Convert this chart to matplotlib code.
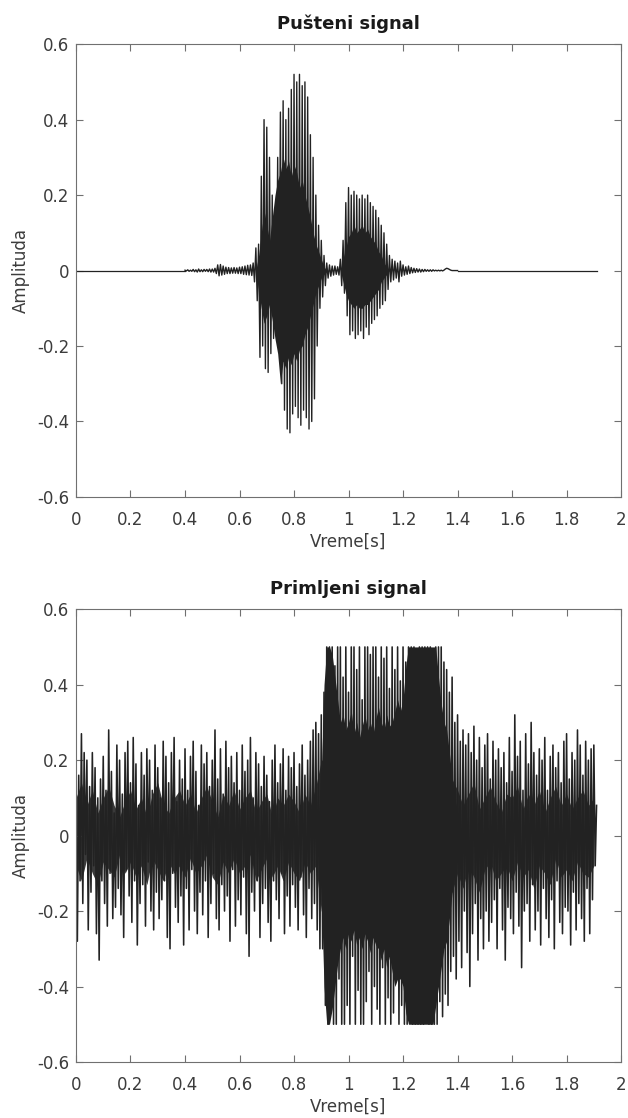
import numpy as np
import matplotlib
matplotlib.use("Agg")
import matplotlib.pyplot as plt
from matplotlib.ticker import FormatStrFormatter

plt.rcParams['font.family'] = ['DejaVu Sans']
plt.rcParams['axes.unicode_minus'] = False

# korak odabiranja (ocitani vrhovi, jedan na svakih 5 ms) i trajanje signala
korak = 0.005
trajanje = 1.91

# Pusteni signal: vrhovi od 0.40 s do 1.40 s, van toga je signal ~0
pusteni_pocetak = 0.40
pusteni = [
    0.001, -0.001, 0.002, -0.002, 0.001, -0.002, 0.003, -0.003, 0.002, -0.004, 0.004, -0.003, 0.002, -0.003, 0.003, -0.002, 0.003, -0.003, 0.004, -0.004,
    0.004, -0.004, 0.006, -0.008, 0.015, -0.014, 0.016, -0.012, 0.012, -0.01, 0.009, -0.008, 0.008, -0.008, 0.007, -0.007, 0.008, -0.007, 0.007, -0.008,
    0.009, -0.008, 0.01, -0.01, 0.012, -0.011, 0.014, -0.012, 0.015, -0.013, 0.02, -0.03, 0.06, -0.08, 0.07, -0.23, 0.25, -0.2, 0.4, -0.26,
    0.38, -0.27, 0.3, -0.22, 0.2, -0.18, 0.12, -0.15, 0.3, -0.2, 0.42, -0.3, 0.45, -0.37, 0.4, -0.42, 0.43, -0.43, 0.48, -0.38,
    0.52, -0.36, 0.5, -0.39, 0.52, -0.41, 0.49, -0.37, 0.5, -0.39, 0.46, -0.42, 0.36, -0.4, 0.3, -0.34, 0.2, -0.2, 0.12, -0.1,
    0.08, -0.07, 0.04, -0.04, 0.02, -0.02, 0.015, -0.015, 0.012, -0.012, 0.012, -0.01, 0.01, -0.012, 0.03, -0.04, 0.08, -0.06, 0.18, -0.12,
    0.22, -0.17, 0.2, -0.16, 0.21, -0.18, 0.2, -0.17, 0.19, -0.16, 0.2, -0.18, 0.19, -0.15, 0.2, -0.17, 0.18, -0.14, 0.17, -0.13,
    0.16, -0.12, 0.14, -0.1, 0.12, -0.09, 0.1, -0.08, 0.07, -0.05, 0.04, -0.03, 0.03, -0.025, 0.025, -0.02, 0.02, -0.03, 0.025, -0.015,
    0.015, -0.012, 0.01, -0.01, 0.012, -0.008, 0.008, -0.006, 0.006, -0.005, 0.005, -0.004, 0.004, -0.004, 0.003, -0.003, 0.003, -0.002, 0.002, -0.002,
    0.002, -0.002, 0.002, -0.001, 0.001, -0.001, 0.001, -0.001, 0.001, -0.001, 0.001, 0.004, 0.006, 0.005, 0.003, 0.001, 0.0, 0.0, 0.0, 0.0, 0.0,
]

# gusto jezgro (zacrnjeni deo) pustenog signala, na svakih 10 ms
jezgro1_pocetak = 0.66
jezgro1_gore = [0.0, 0.04, 0.1, 0.16, 0.12, 0.08, 0.14, 0.2, 0.24, 0.26, 0.3, 0.27, 0.29, 0.25,
                0.28, 0.26, 0.22, 0.24, 0.2, 0.17, 0.14, 0.1, 0.07, 0.05, 0.03, 0.01, 0.0]
jezgro1_dole = [0.0, -0.05, -0.1, -0.14, -0.12, -0.09, -0.13, -0.18, -0.22, -0.3, -0.24, -0.26, -0.23, -0.25,
                -0.22, -0.24, -0.21, -0.2, -0.17, -0.15, -0.12, -0.09, -0.06, -0.04, -0.02, -0.01, 0.0]
jezgro2_pocetak = 0.97
jezgro2_gore = [0.0, 0.03, 0.06, 0.09, 0.1, 0.12, 0.1, 0.11, 0.12, 0.1, 0.11, 0.09, 0.08, 0.07, 0.05, 0.04, 0.02, 0.01, 0.0]
jezgro2_dole = [0.0, -0.03, -0.06, -0.08, -0.09, -0.1, -0.09, -0.1, -0.1, -0.09, -0.09, -0.08, -0.07, -0.06, -0.05, -0.03, -0.02, -0.01, 0.0]

# Primljeni signal: vrhovi od 0 s do 1.91 s
primljeni = [
    0.1, -0.28, 0.16, -0.12, 0.27, -0.18, 0.22, -0.05, 0.2, -0.25, 0.13, -0.15, 0.22, -0.08, 0.18, -0.26, 0.1, -0.33, 0.15, -0.12,
    0.21, -0.18, 0.12, -0.24, 0.28, -0.1, 0.17, -0.22, 0.06, -0.19, 0.24, -0.14, 0.2, -0.21, 0.11, -0.27, 0.22, -0.09, 0.25, -0.16,
    0.14, -0.23, 0.26, -0.12, 0.19, -0.29, 0.08, -0.18, 0.22, -0.13, 0.16, -0.24, 0.23, -0.07, 0.2, -0.2, 0.12, -0.25, 0.24, -0.15,
    0.18, -0.22, 0.1, -0.17, 0.25, -0.12, 0.21, -0.27, 0.14, -0.3, 0.22, -0.1, 0.26, -0.19, 0.09, -0.23, 0.2, -0.16, 0.15, -0.29,
    0.23, -0.14, 0.12, -0.25, 0.21, -0.09, 0.25, -0.2, 0.17, -0.26, 0.08, -0.15, 0.24, -0.21, 0.19, -0.12, 0.22, -0.27, 0.13, -0.18,
    0.2, -0.1, 0.28, -0.22, 0.15, -0.25, 0.23, -0.13, 0.11, -0.2, 0.25, -0.16, 0.18, -0.28, 0.21, -0.09, 0.14, -0.24, 0.22, -0.17,
    0.12, -0.21, 0.24, -0.11, 0.17, -0.26, 0.2, -0.32, 0.26, -0.15, 0.1, -0.2, 0.22, -0.12, 0.19, -0.27, 0.13, -0.18, 0.21, -0.14,
    0.16, -0.23, 0.09, -0.28, 0.2, -0.12, 0.24, -0.17, 0.14, -0.22, 0.19, -0.1, 0.23, -0.26, 0.12, -0.16, 0.21, -0.24, 0.18, -0.13,
    0.22, -0.19, 0.13, -0.25, 0.19, -0.11, 0.24, -0.21, 0.16, -0.27, 0.2, -0.14, 0.25, -0.22, 0.28, -0.18, 0.3, -0.25, 0.27, -0.3,
    0.32, -0.3, 0.38, -0.45, 0.5, -0.5, 0.5, -0.42, 0.5, -0.5, 0.45, -0.5, 0.5, -0.38, 0.5, -0.5, 0.42, -0.5, 0.5, -0.45,
    0.38, -0.5, 0.5, -0.32, 0.5, -0.5, 0.44, -0.41, 0.5, -0.5, 0.36, -0.5, 0.5, -0.44, 0.5, -0.36, 0.48, -0.5, 0.5, -0.4,
    0.5, -0.46, 0.42, -0.5, 0.5, -0.35, 0.47, -0.5, 0.5, -0.43, 0.39, -0.5, 0.5, -0.47, 0.44, -0.38, 0.5, -0.5, 0.41, -0.45,
    0.5, -0.5, 0.46, -0.5, 0.5, -0.42, 0.5, -0.5, 0.5, -0.5, 0.48, -0.5, 0.5, -0.5, 0.5, -0.5, 0.5, -0.46, 0.5, -0.5,
    0.5, -0.5, 0.47, -0.5, 0.5, -0.5, 0.5, -0.44, 0.5, -0.48, 0.46, -0.42, 0.44, -0.45, 0.38, -0.36, 0.42, -0.32, 0.3, -0.38,
    0.32, -0.28, 0.25, -0.35, 0.28, -0.2, 0.24, -0.31, 0.27, -0.4, 0.22, -0.26, 0.29, -0.18, 0.2, -0.33, 0.26, -0.22, 0.18, -0.3,
    0.24, -0.2, 0.27, -0.28, 0.15, -0.23, 0.25, -0.17, 0.2, -0.3, 0.23, -0.14, 0.18, -0.25, 0.22, -0.33, 0.14, -0.19, 0.26, -0.22,
    0.17, -0.26, 0.32, -0.15, 0.21, -0.24, 0.25, -0.35, 0.12, -0.2, 0.27, -0.18, 0.19, -0.28, 0.3, -0.13, 0.22, -0.25, 0.16, -0.2,
    0.23, -0.29, 0.2, -0.14, 0.26, -0.22, 0.12, -0.27, 0.21, -0.17, 0.24, -0.3, 0.18, -0.12, 0.22, -0.23, 0.14, -0.26, 0.25, -0.19,
    0.27, -0.2, 0.15, -0.29, 0.22, -0.15, 0.2, -0.25, 0.28, -0.18, 0.24, -0.22, 0.16, -0.28, 0.25, -0.14, 0.2, -0.26, 0.23, -0.17,
    0.24, -0.08, 0.08,
]

# tamna traka suma oko nule u primljenom signalu, na svakih 20 ms
sum_korak = 0.02
sum_gore = [0.1, 0.14, 0.08, 0.12, 0.06, 0.1, 0.13, 0.08, 0.05, 0.09,
            0.12, 0.07, 0.1, 0.05, 0.11, 0.14, 0.08, 0.06, 0.1, 0.12,
            0.08, 0.11, 0.06, 0.1, 0.13, 0.09, 0.05, 0.11, 0.08, 0.12,
            0.07, 0.1, 0.12, 0.06, 0.09, 0.11, 0.05, 0.1, 0.08, 0.11,
            0.09, 0.06, 0.11, 0.08, 0.13, 0.2, 0.2, 0.2, 0.2, 0.2,
            0.2, 0.2, 0.2, 0.2, 0.2, 0.2, 0.2, 0.2, 0.2, 0.2,
            0.2, 0.2, 0.2, 0.2, 0.2, 0.2, 0.2, 0.2, 0.18, 0.15,
            0.12, 0.08, 0.11, 0.14, 0.07, 0.1, 0.13, 0.09, 0.06, 0.11,
            0.1, 0.13, 0.07, 0.11, 0.08, 0.12, 0.06, 0.1, 0.13, 0.08,
            0.11, 0.07, 0.1, 0.12, 0.08, 0.1]
sum_dole = [-0.08, -0.12, -0.06, -0.1, -0.13, -0.07, -0.09, -0.11, -0.05, -0.1,
            -0.07, -0.11, -0.08, -0.13, -0.06, -0.09, -0.12, -0.07, -0.1, -0.08,
            -0.11, -0.06, -0.1, -0.08, -0.05, -0.11, -0.13, -0.07, -0.1, -0.06,
            -0.1, -0.08, -0.05, -0.12, -0.09, -0.06, -0.11, -0.08, -0.12, -0.07,
            -0.1, -0.12, -0.07, -0.1, -0.08, -0.2, -0.2, -0.2, -0.2, -0.2,
            -0.2, -0.2, -0.2, -0.2, -0.2, -0.2, -0.2, -0.2, -0.2, -0.2,
            -0.2, -0.2, -0.2, -0.2, -0.2, -0.2, -0.2, -0.2, -0.17, -0.15,
            -0.1, -0.14, -0.08, -0.11, -0.15, -0.09, -0.07, -0.12, -0.1, -0.08,
            -0.12, -0.07, -0.11, -0.09, -0.14, -0.08, -0.1, -0.13, -0.06, -0.11,
            -0.09, -0.12, -0.07, -0.1, -0.11, -0.08]

# gusto jezgro primljenog signala u delu sa govorom, na svakih 10 ms
jezgro3_pocetak = 0.89
jezgro3_gore = [0.05, 0.15, 0.4, 0.5, 0.5, 0.48, 0.42, 0.36, 0.3, 0.32,
                0.28, 0.3, 0.33, 0.27, 0.3, 0.26, 0.29, 0.32, 0.28, 0.3,
                0.27, 0.31, 0.34, 0.3, 0.28, 0.32, 0.29, 0.3, 0.33, 0.36,
                0.33, 0.36, 0.45, 0.5, 0.5, 0.5, 0.5, 0.5, 0.5, 0.5,
                0.5, 0.5, 0.5, 0.5, 0.42, 0.35, 0.3, 0.28, 0.22, 0.15,
                0.1, 0.06]
jezgro3_dole = [-0.05, -0.16, -0.4, -0.5, -0.5, -0.46, -0.4, -0.34, -0.3, -0.27,
                -0.3, -0.26, -0.28, -0.25, -0.29, -0.27, -0.3, -0.26, -0.28, -0.31,
                -0.27, -0.29, -0.3, -0.33, -0.3, -0.35, -0.32, -0.36, -0.4, -0.38,
                -0.38, -0.4, -0.47, -0.5, -0.5, -0.5, -0.5, -0.5, -0.5, -0.5,
                -0.5, -0.5, -0.5, -0.45, -0.4, -0.35, -0.3, -0.28, -0.22, -0.15,
                -0.1, -0.06]
korak_jezgra = 0.01

boja_linije = '#222222'
boja_suma = '#3a3a3a'
boja_teksta = '#3c3c3c'
boja_ose = '#707070'

x_podeoci = [0, 0.2, 0.4, 0.6, 0.8, 1, 1.2, 1.4, 1.6, 1.8, 2]
y_podeoci = [-0.6, -0.4, -0.2, 0, 0.2, 0.4, 0.6]


def podesi_osu(ax, naslov):
    ax.set_xlim(0, 2)
    ax.set_ylim(-0.6, 0.6)
    ax.set_xticks(x_podeoci)
    ax.set_yticks(y_podeoci)
    ax.xaxis.set_major_formatter(FormatStrFormatter('%g'))
    ax.yaxis.set_major_formatter(FormatStrFormatter('%g'))
    ax.tick_params(direction='in', top=True, right=True, length=5, width=0.8,
                   color=boja_ose, labelcolor=boja_teksta, labelsize=12)
    ax.tick_params(axis='x', pad=10)
    ax.tick_params(axis='y', pad=5)
    for s in ax.spines.values():
        s.set_color(boja_ose)
        s.set_linewidth(0.8)
    ax.set_title(naslov, fontsize=13, fontweight='bold', color='#1a1a1a', pad=11)
    ax.set_xlabel('Vreme[s]', fontsize=12, color=boja_teksta, labelpad=3)
    ax.set_ylabel('Amplituda', fontsize=12, color=boja_teksta, labelpad=5)


def jezgro(ax, pocetak, korak_t, gore, dole, boja=boja_linije):
    t = pocetak + np.arange(len(gore)) * korak_t
    ax.fill_between(t, dole, gore, color=boja, lw=0)


fig = plt.figure(figsize=(6.28, 11.18), dpi=100)
ax1 = fig.add_axes([0.121, 0.5555, 0.868, 0.405])
ax2 = fig.add_axes([0.121, 0.0501, 0.868, 0.405])

# gornji grafik
t1 = pusteni_pocetak + np.arange(len(pusteni)) * korak
ax1.plot([0, pusteni_pocetak], [0, 0], color=boja_linije, lw=0.9)
ax1.plot([t1[-1], trajanje], [0, 0], color=boja_linije, lw=0.9)
jezgro(ax1, jezgro1_pocetak, korak_jezgra, jezgro1_gore, jezgro1_dole)
jezgro(ax1, jezgro2_pocetak, korak_jezgra, jezgro2_gore, jezgro2_dole)
ax1.plot(t1, pusteni, color=boja_linije, lw=1.0)
podesi_osu(ax1, 'Pušteni signal')

# donji grafik
t2 = np.arange(len(primljeni)) * korak
jezgro(ax2, 0.0, sum_korak, sum_gore, sum_dole, boja_suma)
jezgro(ax2, jezgro3_pocetak, korak_jezgra, jezgro3_gore, jezgro3_dole)
ax2.plot(t2, primljeni, color=boja_linije, lw=1.15)
podesi_osu(ax2, 'Primljeni signal')

fig.savefig('out.png', dpi=100)
